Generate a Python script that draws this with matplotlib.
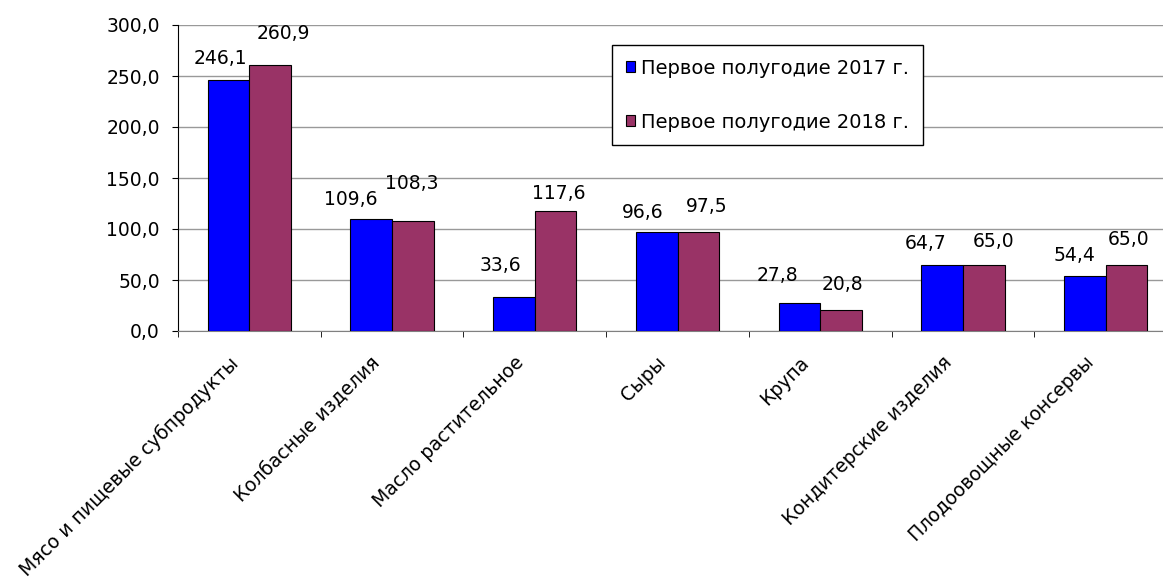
import numpy as np
import matplotlib.pyplot as plt
import matplotlib.transforms as mtransforms

plt.rcParams['font.family'] = ['DejaVu Sans']
plt.rcParams['font.size'] = 13.5

# ---- data ----
categories = ['Мясо и пищевые субпродукты', 'Колбасные изделия',
              'Масло растительное', 'Сыры', 'Крупа',
              'Кондитерские изделия', 'Плодоовощные консервы']
h2017 = [246.1, 109.6, 33.6, 96.6, 27.8, 64.7, 54.4]
h2018 = [260.9, 108.3, 117.6, 97.5, 20.8, 65.0, 65.0]
series_names = ['Первое полугодие 2017 г.', 'Первое полугодие 2018 г.']
yticks = [0, 50, 100, 150, 200, 250, 300]

# label nudges (pixels), like excel placed them
dx17 = [-8, -20, -14, -14, -22, -16, -10]
dy17 = [16, 14, 26, 14, 22, 16, 15]
dx18 = [13, -1, 3, 8, 1, 10, 2]
dy18 = [26, 32, 12, 20, 20, 18, 20]

c17 = '#0000ff'
c18 = '#993366'

fig = plt.figure(figsize=(11.63, 5.78), dpi=100)
ax = fig.add_axes([178/1163, 1-331/578, 999/1163, 306/578])

x = np.arange(len(categories))
w = 0.292
ax.bar(x - w/2, h2017, w, color=c17, edgecolor='black', lw=0.8,
       label=series_names[0], zorder=3)
ax.bar(x + w/2, h2018, w, color=c18, edgecolor='black', lw=0.8,
       label=series_names[1], zorder=3)

def fmt(v):
  return ('%.1f' % v).replace('.', ',')

for i in range(len(x)):
  ax.annotate(fmt(h2017[i]), (x[i]-w/2, h2017[i]), xytext=(dx17[i], dy17[i]),
              textcoords='offset pixels', ha='center', va='baseline')
  ax.annotate(fmt(h2018[i]), (x[i]+w/2, h2018[i]), xytext=(dx18[i], dy18[i]),
              textcoords='offset pixels', ha='center', va='baseline')

ax.set_xlim(-0.5, len(categories)-0.5)
ax.set_ylim(0, 300)
ax.set_yticks(yticks)
ax.set_yticklabels([fmt(v) for v in yticks])
ax.yaxis.grid(True, color='#999999', lw=1, zorder=0)
ax.set_axisbelow(True)

ax.set_xticks(x)
ax.set_xticklabels(categories, rotation=45, ha='right', va='top',
                   rotation_mode='anchor', fontsize=13.5)
ax.set_xticks(np.arange(len(categories)) - 0.5, minor=True)
ax.tick_params(axis='x', which='major', length=0, pad=16)
ax.tick_params(axis='x', which='minor', length=4, direction='out')
ax.tick_params(axis='y', length=4, pad=9)
off = mtransforms.ScaledTranslation(-21/100, 0, fig.dpi_scale_trans)
for lbl in ax.get_xticklabels():
  lbl.set_transform(lbl.get_transform() + off)

for s in ['top', 'right']:
  ax.spines[s].set_visible(False)
ax.spines['bottom'].set_color('#808080')
ax.spines['left'].set_color('black')

leg = fig.legend(loc='upper left', bbox_to_anchor=(612/1163, 1-45/578),
                 borderaxespad=0, frameon=True, fancybox=False, framealpha=1,
                 edgecolor='black', handlelength=0.5, handleheight=0.5,
                 handletextpad=0.3, borderpad=0.7, labelspacing=1.8,
                 fontsize=14)
leg.get_frame().set_linewidth(1)

fig.savefig('out.png', dpi=100)
